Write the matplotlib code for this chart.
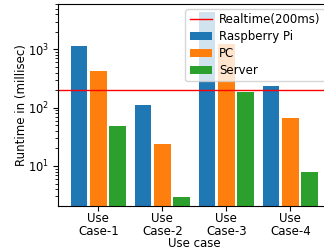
import numpy as np
import matplotlib
matplotlib.use('Agg')
import matplotlib.pyplot as plt

cases = ['Use\nCase-1', 'Use\nCase-2', 'Use\nCase-3', 'Use\nCase-4']
rpi = [1140, 111, 4370, 235]
pc = [425, 24, 1250, 67.5]
server = [48.5, 2.94, 186, 7.9]
realtime = 200

plt.rcParams['font.size'] = 8.5

fig = plt.figure(figsize=(3.24, 2.52), dpi=100)
ax = fig.add_axes([58 / 324, 46 / 252, 272 / 324, 202 / 252])

x = np.arange(len(cases))
w = 0.26
b1 = ax.bar(x - 0.3, rpi, w, color='tab:blue', label='Raspberry Pi')
b2 = ax.bar(x, pc, w, color='tab:orange', label='PC')
b3 = ax.bar(x + 0.3, server, w, color='tab:green', label='Server')
line = ax.axhline(realtime, color='red', linewidth=1, label='Realtime(200ms)')

ax.set_yscale('log')
ax.set_ylim(2.06, 6000)
ax.set_xlim(-0.63, 3.62)
ax.set_xticks(x)
ax.set_xticklabels(cases, linespacing=1.0)
ax.tick_params(axis='x', pad=1)
ax.tick_params(axis='y', labelsize=8.3, pad=3)
ax.set_xlabel('Use case', labelpad=-1)
ax.set_ylabel('Runtime in (millisec)', labelpad=0)
ax.legend(handles=[line, b1, b2, b3], loc='upper right', handlelength=1.9,
          handletextpad=0.6, borderaxespad=0.45, labelspacing=0.32,
          borderpad=0.35)

fig.savefig('out.png', dpi=100)
